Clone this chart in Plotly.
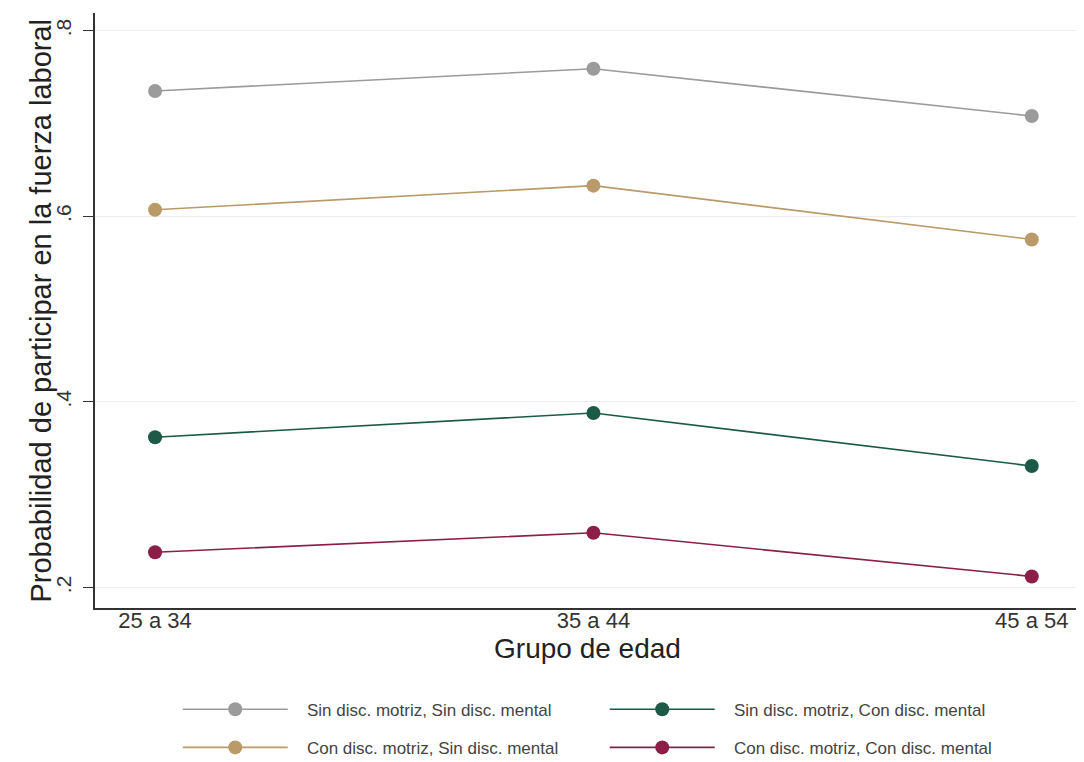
import plotly.graph_objects as go

categories = ["25 a 34", "35 a 44", "45 a 54"]
sin_sin = [0.735, 0.759, 0.708]
sin_con = [0.362, 0.388, 0.331]
con_sin = [0.607, 0.633, 0.575]
con_con = [0.238, 0.259, 0.212]

series = [
    ("Sin disc. motriz, Sin disc. mental", sin_sin, "#9b9b9b", "legend"),
    ("Sin disc. motriz, Con disc. mental", sin_con, "#1c5a47", "legend"),
    ("Con disc. motriz, Sin disc. mental", con_sin, "#b99a68", "legend2"),
    ("Con disc. motriz, Con disc. mental", con_con, "#8c1e48", "legend2"),
]

fig = go.Figure()
for name, vals, col, leg in series:
    fig.add_trace(go.Scatter(
        x=list(range(len(categories))), y=vals, name="\u00a0\u00a0\u00a0" + name,
        mode="lines+markers",
        line=dict(color=col, width=1.6),
        marker=dict(color=col, size=14),
        legend=leg,
    ))

leg_common = dict(
    orientation="h", xanchor="left", yanchor="middle",
    entrywidth=307, entrywidthmode="pixels", itemwidth=105,
    font=dict(size=17, color="#444444"), bgcolor="rgba(0,0,0,0)",
)

# page body has an 8px default margin, so the figure is sized/offset to compensate
fig.update_layout(
    width=1076, height=754,
    margin=dict(l=87, r=4, t=5, b=154, autoexpand=False),
    paper_bgcolor="white", plot_bgcolor="white",
    font=dict(family="Liberation Sans, Arial", color="#333333"),
    showlegend=True,
    legend=dict(x=0.084, y=-0.171, **leg_common),
    legend2=dict(x=0.084, y=-0.235, **leg_common),
    xaxis=dict(
        tickmode="array", tickvals=list(range(len(categories))), ticktext=categories,
        range=[-0.137, 2.11], showgrid=False, zeroline=False, automargin=False,
        showline=True, linecolor="#333333", linewidth=1.5,
        ticks="", ticklabelstandoff=-8, tickfont=dict(size=22, color="#333333"),
        title=dict(text="Grupo de edad", font=dict(size=28, color="#222222"), standoff=0),
    ),
    yaxis=dict(
        range=[0.178, 0.819], tickvals=[0.2, 0.4, 0.6, 0.8], ticktext=[".2", ".4", ".6", ".8"],
        tickangle=-90, showgrid=True, gridcolor="#ececec", gridwidth=1, zeroline=False,
        automargin=False,
        showline=True, linecolor="#333333", linewidth=1.5,
        ticks="outside", ticklen=10, tickcolor="#333333",
        ticklabelstandoff=4,
        tickfont=dict(size=21, color="#333333"),
    ),
    annotations=[dict(
        text="Probabilidad de participar en la fuerza laboral",
        xref="paper", yref="paper", x=-0.0558, y=0.5,
        xanchor="center", yanchor="middle", textangle=-90, showarrow=False,
        font=dict(size=29, color="#222222"),
    )],
)

fig.write_html("out.html")
